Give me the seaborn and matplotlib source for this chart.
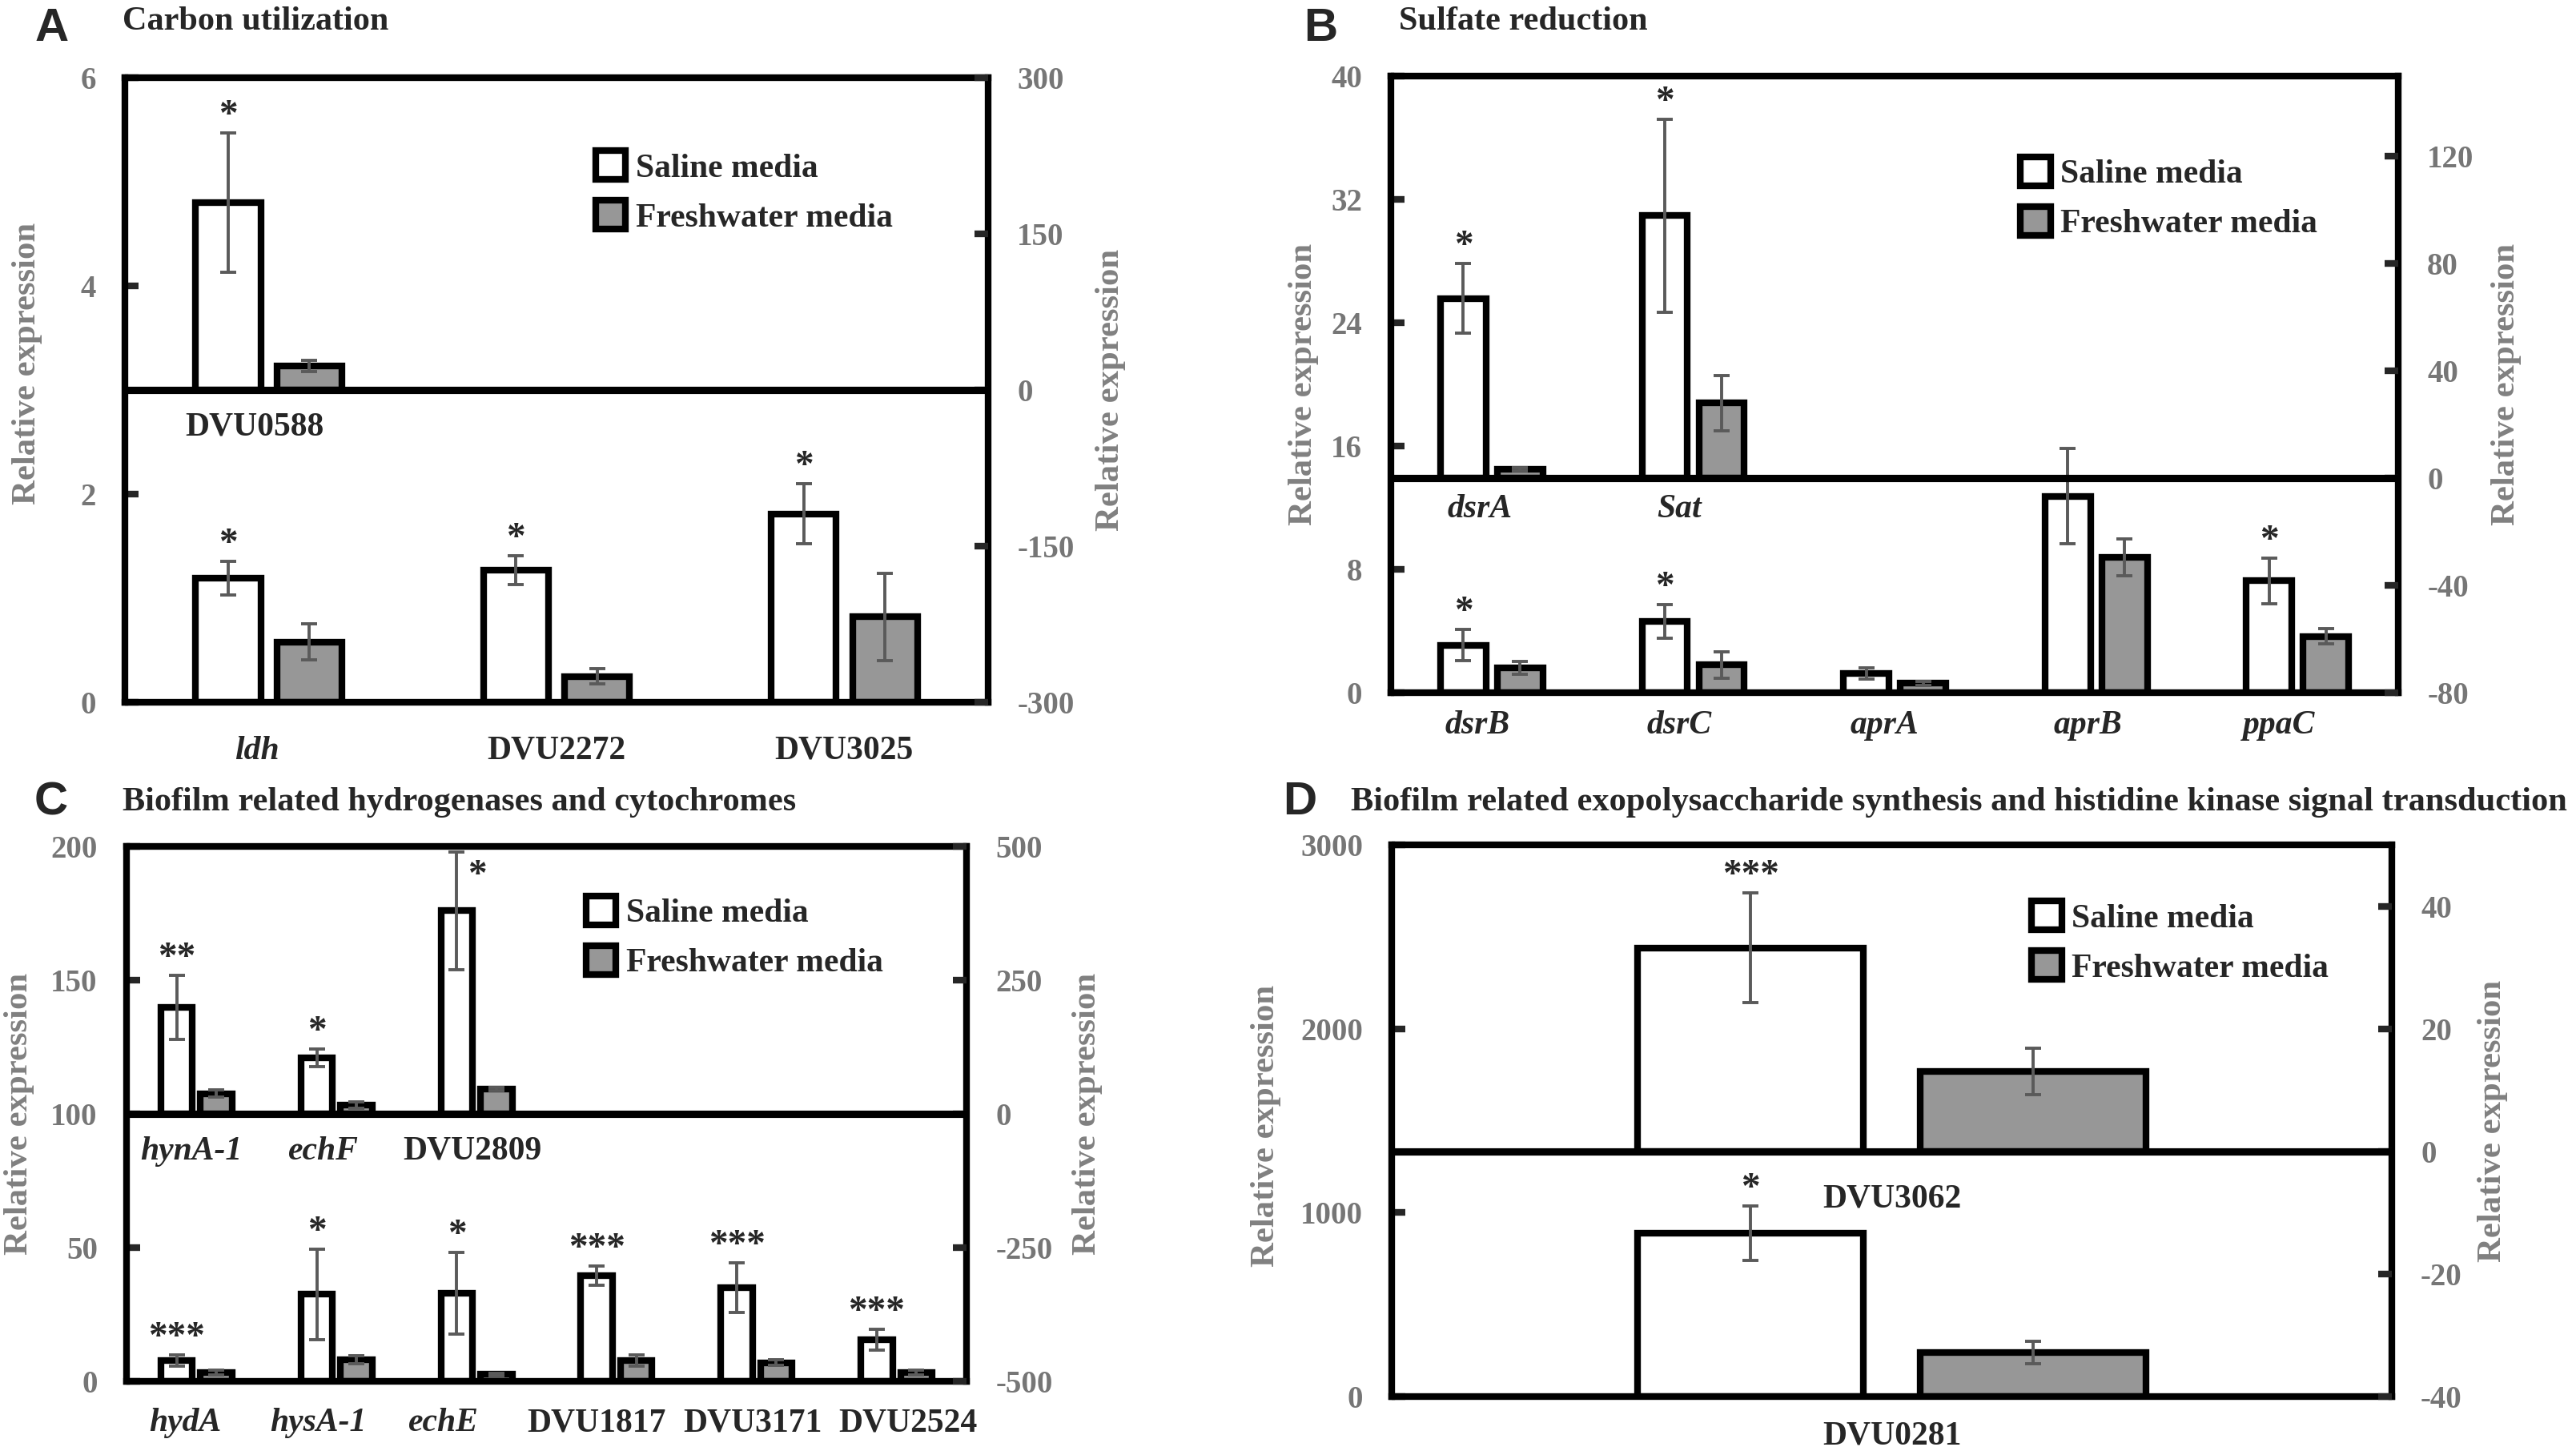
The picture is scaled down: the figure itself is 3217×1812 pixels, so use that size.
import pandas as pd
import matplotlib
matplotlib.use("Agg")
import matplotlib.pyplot as plt
import seaborn as sns
from matplotlib.patches import Patch

SALINE = "Saline media"
FRESH = "Freshwater media"

# ---- Panel A: carbon utilization ----
A_top_genes = ["DVU0588"]
A_top_saline = [180]
A_top_saline_err = [67]
A_top_fresh = [23]
A_top_fresh_err = [5.5]
A_top_stars = ["*"]
A_bot_genes = ["ldh", "DVU2272", "DVU3025"]
A_bot_saline = [1.19, 1.27, 1.81]
A_bot_saline_err = [0.16, 0.14, 0.29]
A_bot_fresh = [0.58, 0.25, 0.82]
A_bot_fresh_err = [0.17, 0.07, 0.42]
A_bot_stars = ["*", "*", "*"]

# ---- Panel B: sulfate reduction ----
B_top_genes = ["dsrA", "Sat"]
B_top_saline = [67, 98]
B_top_saline_err = [13, 36]
B_top_fresh = [3.3, 28]
B_top_fresh_err = [0.7, 10.3]
B_top_stars = ["*", "*"]
B_bot_genes = ["dsrB", "dsrC", "aprA", "aprB", "ppaC"]
B_bot_saline = [3.08, 4.64, 1.24, 12.75, 7.25]
B_bot_saline_err = [1.0, 1.1, 0.35, 3.1, 1.5]
B_bot_fresh = [1.62, 1.81, 0.6, 8.78, 3.66]
B_bot_fresh_err = [0.4, 0.85, 0.13, 1.2, 0.5]
B_bot_stars = ["*", "*", "", "", "*"]

# ---- Panel C: hydrogenases and cytochromes ----
C_top_genes = ["hynA-1", "echF", "DVU2809"]
C_top_saline = [199, 105, 380]
C_top_saline_err = [60, 16, 110]
C_top_fresh = [38, 17, 47]
C_top_fresh_err = [7, 6, 3]
C_top_stars = ["**", "*", "*"]
C_bot_genes = ["hydA", "hysA-1", "echE", "DVU1817", "DVU3171", "DVU2524"]
C_bot_saline = [7.8, 32.5, 33, 39.5, 35, 15.6]
C_bot_saline_err = [2.0, 17, 15.2, 3.5, 9.2, 3.8]
C_bot_fresh = [3.25, 8.1, 2.6, 7.8, 7.0, 3.25]
C_bot_fresh_err = [0.9, 1.6, 0.5, 2.2, 1.0, 0.8]
C_bot_stars = ["***", "*", "*", "***", "***", "***"]

# ---- Panel D: exopolysaccharide / histidine kinase ----
D_top_genes = ["DVU3062"]
D_top_saline = [33.2]
D_top_saline_err = [8.9]
D_top_fresh = [13]
D_top_fresh_err = [3.8]
D_top_stars = ["***"]
D_bot_genes = ["DVU0281"]
D_bot_saline = [887]
D_bot_saline_err = [148]
D_bot_fresh = [240]
D_bot_fresh_err = [60]
D_bot_stars = ["*"]

GRAY = "#979797"
TICK_GRAY = "#767676"
LABEL_GRAY = "#808080"
ERR_GRAY = "#5a5a5a"
LW = 3.0

sns.set_style("white")
plt.rcParams["font.family"] = ["Liberation Serif", "DejaVu Serif"]
plt.rcParams["font.weight"] = "bold"
plt.rcParams["axes.unicode_minus"] = False


def gene_style(g):
    return "normal" if g.startswith("DVU") else "italic"


def draw_bars(ax, genes, saline, saline_err, fresh, fresh_err, stars, star_shift=None):
    df = pd.DataFrame({
        "gene": genes * 2,
        "value": saline + fresh,
        "media": [SALINE] * len(genes) + [FRESH] * len(genes),
    })
    sns.barplot(data=df, x="gene", y="value", hue="media", order=genes,
                hue_order=[SALINE, FRESH], palette={SALINE: "white", FRESH: GRAY},
                width=0.565, gap=0.2, edgecolor="black", linewidth=LW,
                saturation=1, errorbar=None, legend=False, ax=ax)
    sal_x = []
    for cont, vals, errs in zip(ax.containers, [saline, fresh], [saline_err, fresh_err]):
        xs = [b.get_x() + b.get_width() / 2 for b in cont]
        if not sal_x:
            sal_x = xs
        ax.errorbar(xs, vals, yerr=errs, fmt="none", ecolor=ERR_GRAY,
                    elinewidth=1.4, capsize=3.5, capthick=1.4, zorder=5)
    for i, (x, v, e, s) in enumerate(zip(sal_x, saline, saline_err, stars)):
        if not s:
            continue
        if star_shift and i in star_shift:
            dx, dy = star_shift[i]
            ax.annotate(s, xy=(x, v + e), xytext=(dx, dy), textcoords="offset points",
                        ha="center", va="center", fontsize=17, fontweight="bold")
        else:
            ax.annotate(s, xy=(x, v + e), xytext=(0, 0), textcoords="offset points",
                        ha="center", va="bottom", fontsize=17, fontweight="bold")


def panel(fig, rect, letter, title, title_size, letter_xy, title_xy,
          top, bot, left_lim, left_ticks, right_lim, right_ticks,
          leg_xy, xpad, toppad, ylab_pos, top_star_shift=None,
          bot_nudge=None, top_nudge=None):
    n = len(bot[0])
    bot_nudge = bot_nudge or [0] * n
    top_nudge = top_nudge or [0] * len(top[0])
    ax = fig.add_axes(rect)
    ax2 = fig.add_axes(rect, label=letter + "_upper")
    ax2.patch.set_visible(False)

    draw_bars(ax, *bot)
    draw_bars(ax2, *top, star_shift=top_star_shift)

    for a in (ax, ax2):
        a.set_xlim(-0.5, n - 0.5)
        a.set_xlabel("")
    ax.set_ylim(*left_lim)
    ax.set_yticks(left_ticks)
    ax2.set_ylim(*right_lim)
    ax2.set_yticks(right_ticks)

    ax2.xaxis.set_visible(False)
    ax2.yaxis.tick_right()
    ax2.yaxis.set_label_position("right")
    for sp in ax2.spines.values():
        sp.set_visible(False)
    for sp in ax.spines.values():
        sp.set_visible(True)
        sp.set_color("black")
        sp.set_linewidth(LW)
    ax2.axhline(0, color="black", lw=LW + 0.3, zorder=6)

    # category labels (slightly nudged like the hand-placed labels of the original)
    ax.set_xticks([i + d for i, d in enumerate(bot_nudge)])
    ax.set_xticklabels(bot[0])
    for lbl, g in zip(ax.get_xticklabels(), bot[0]):
        lbl.set_style(gene_style(g))
    ax.tick_params(axis="x", length=0, pad=xpad, labelsize=15)
    ax.tick_params(axis="y", direction="in", length=6, width=LW, pad=13,
                   labelsize=14, labelcolor=TICK_GRAY, left=True)
    ax2.tick_params(axis="y", direction="in", length=6, width=LW, pad=13,
                    labelsize=14, labelcolor=TICK_GRAY, right=True)

    for i, (g, d) in enumerate(zip(top[0], top_nudge)):
        ax2.annotate(g, xy=(i + d, 0), xytext=(0, -toppad), textcoords="offset points",
                     ha="center", va="top", fontsize=15, fontweight="bold",
                     style=gene_style(g))

    ax.set_ylabel("Relative expression", fontsize=15.4, color=LABEL_GRAY, fontweight="bold")
    ax2.set_ylabel("Relative expression", fontsize=15.4, color=LABEL_GRAY, fontweight="bold")
    ax.yaxis.label.set_va("center")
    ax2.yaxis.label.set_va("center")
    ax.yaxis.set_label_coords(ylab_pos[0], ylab_pos[1])
    ax2.yaxis.set_label_coords(ylab_pos[2], 0.5)

    handles = [Patch(facecolor="white", edgecolor="black", linewidth=LW),
               Patch(facecolor=GRAY, edgecolor="black", linewidth=LW)]
    ax2.legend(handles, [SALINE, FRESH], loc="upper left",
               bbox_to_anchor=(leg_xy[0], 1 - leg_xy[1] + 0.024), frameon=False,
               handlelength=0.9, handleheight=0.95, handletextpad=0.3,
               labelspacing=0.5, borderpad=0, borderaxespad=0,
               prop={"family": "Liberation Serif", "weight": "bold", "size": 15})

    fig.text(letter_xy[0], letter_xy[1], letter, fontsize=21, fontweight="bold",
             family="Liberation Sans", va="center", ha="left")
    fig.text(title_xy[0], title_xy[1], title, fontsize=title_size, fontweight="bold",
             va="center", ha="left")


fig = plt.figure(figsize=(16.085, 9.06), dpi=200)

panel(fig, [0.0485, 0.516, 0.3351, 0.4305], "A", "Carbon utilization", 15.2,
      (0.0134, 0.980), (0.0476, 0.985),
      (A_top_genes, A_top_saline, A_top_saline_err, A_top_fresh, A_top_fresh_err, A_top_stars),
      (A_bot_genes, A_bot_saline, A_bot_saline_err, A_bot_fresh, A_bot_fresh_err, A_bot_stars),
      (0, 6), [0, 2, 4, 6], (-300, 300), [-300, -150, 0, 150, 300],
      (0.545, 0.141), 15, 10, (-0.1136, 0.542, 1.142),
      bot_nudge=[-0.04, 0, 0], top_nudge=[-0.05])

panel(fig, [0.540, 0.5226, 0.391, 0.425], "B", "Sulfate reduction", 15.2,
      (0.506, 0.980), (0.543, 0.985),
      (B_top_genes, B_top_saline, B_top_saline_err, B_top_fresh, B_top_fresh_err, B_top_stars),
      (B_bot_genes, B_bot_saline, B_bot_saline_err, B_bot_fresh, B_bot_fresh_err, B_bot_stars),
      (0, 40), [0, 8, 16, 24, 32, 40], (-80, 150), [-80, -40, 0, 40, 80, 120],
      (0.625, 0.155), 8, 7, (-0.087, 0.5, 1.107),
      bot_nudge=[-0.07, -0.07, -0.05, -0.04, -0.09], top_nudge=[-0.06, -0.07])

panel(fig, [0.0491, 0.048, 0.3261, 0.3687], "C", "Biofilm related hydrogenases and cytochromes", 15.2,
      (0.0134, 0.447), (0.0476, 0.447),
      (C_top_genes, C_top_saline, C_top_saline_err, C_top_fresh, C_top_fresh_err, C_top_stars),
      (C_bot_genes, C_bot_saline, C_bot_saline_err, C_bot_fresh, C_bot_fresh_err, C_bot_stars),
      (0, 200), [0, 50, 100, 150, 200], (-500, 500), [-500, -250, 0, 250, 500],
      (0.547, 0.117), 12, 10, (-0.128, 0.5, 1.144), top_star_shift={2: (9, -11)},
      bot_nudge=[-0.08, -0.13, -0.24, -0.14, -0.03, 0.08], top_nudge=[-0.04, -0.1, -0.03])

panel(fig, [0.5403, 0.0375, 0.3882, 0.3803], "D",
      "Biofilm related exopolysaccharide synthesis and histidine kinase signal transduction", 15.3,
      (0.498, 0.447), (0.5244, 0.447),
      (D_top_genes, D_top_saline, D_top_saline_err, D_top_fresh, D_top_fresh_err, D_top_stars),
      (D_bot_genes, D_bot_saline, D_bot_saline_err, D_bot_fresh, D_bot_fresh_err, D_bot_stars),
      (0, 3000), [0, 1000, 2000, 3000], (-40, 50), [-40, -20, 0, 20, 40],
      (0.64, 0.126), 11, 14.5, (-0.126, 0.49, 1.101))

fig.savefig("out.png", dpi=200)
